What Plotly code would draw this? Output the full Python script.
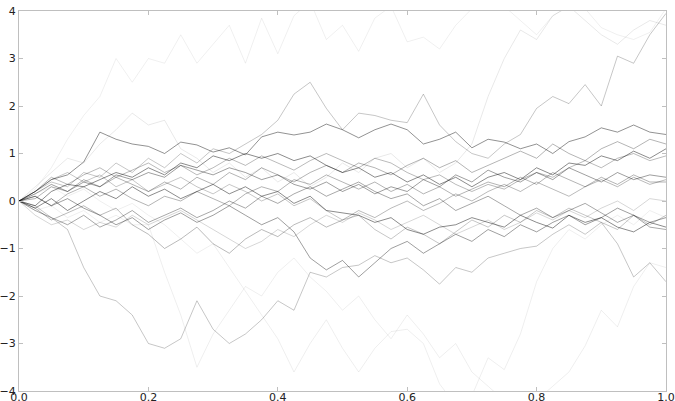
import plotly.graph_objects as go

# time grid (x values)
t = [0.0, 0.025, 0.05, 0.075, 0.1, 0.125, 0.15, 0.175, 0.2, 0.225,
     0.25, 0.275, 0.3, 0.325, 0.35, 0.375, 0.4, 0.425, 0.45, 0.475,
     0.5, 0.525, 0.55, 0.575, 0.6, 0.625, 0.65, 0.675, 0.7, 0.725,
     0.75, 0.775, 0.8, 0.825, 0.85, 0.875, 0.9, 0.925, 0.95, 0.975, 1.0]

path_a = [0, 0.25, 0.7, 1.3, 1.8, 2.2, 3.0, 2.5, 3.0, 2.9, 3.5, 2.9, 3.3, 3.7, 2.9, 3.85, 3.1, 3.9, 4.2, 3.4,
          3.7, 3.15, 3.85, 4.1, 3.35, 3.45, 3.2, 3.7, 4.05, 4.3, 4.1, 3.8, 3.5, 3.9, 4.1, 4.05, 3.65, 3.5, 3.4, 3.55, 4.05]
path_b = [0, 0.2, 0.4, 0.3, 0.6, 0.5, 0.8, 0.6, 0.9, 0.7, 1.0, 0.8, 1.1, 1.0, 1.2, 1.4, 1.7, 2.25, 2.5, 1.95,
          1.5, 1.85, 1.8, 1.7, 1.65, 2.25, 1.6, 1.25, 1.0, 0.9, 1.2, 1.4, 1.95, 2.2, 2.05, 2.45, 2.0, 3.05, 2.9, 3.5, 3.95]
path_c = [0, 0.3, 0.6, 0.9, 0.8, 1.2, 1.5, 1.85, 1.6, 1.7, 1.1, 0.9, 0.6, 0.8, 0.5, 0.7, 0.4, 0.6, 0.3, 0.5,
          0.8, 0.6, 0.9, 1.0, 0.7, 0.9, 0.6, 0.8, 1.2, 2.2, 3.0, 3.6, 3.4, 3.9, 4.1, 3.8, 3.5, 3.3, 3.6, 3.8, 3.7]
path_e = [0, -0.1, -0.35, -0.6, -1.4, -2.0, -2.1, -2.4, -3.0, -3.1, -2.9, -2.1, -2.7, -3.0, -2.8, -2.5, -2.1, -2.3, -1.5, -1.6,
          -1.4, -1.35, -1.15, -1.3, -1.2, -1.45, -1.75, -1.4, -1.5, -1.2, -1.1, -1.0, -0.95, -0.7, -0.5, -0.7, -0.45, -0.6, -0.3, -0.5, -0.3]
path_f = [0, 0.15, 0.3, 0.1, 0.25, 0.0, -0.2, -0.05, -0.3, -0.5, -0.8, -1.1, -0.9, -1.4, -1.9, -2.4, -2.9, -3.6, -3.0, -2.5,
          -3.1, -3.6, -3.1, -2.75, -2.7, -3.0, -3.85, -4.3, -4.1, -3.3, -3.55, -2.8, -1.7, -1.0, -0.6, -0.8, -0.5, -0.3, -0.5, -0.2, -0.35]
path_g = [0, -0.2, -0.1, -0.35, -0.2, -0.45, -0.3, -0.5, -0.5, -1.5, -2.4, -3.5, -2.8, -2.3, -1.8, -2.0, -1.5, -1.2, -1.6, -1.9,
          -2.3, -2.0, -2.5, -2.9, -2.4, -2.8, -3.3, -3.0, -3.6, -3.9, -4.2, -4.4, -4.2, -3.9, -3.6, -3.05, -2.3, -2.65, -1.8, -1.3, -1.4]
path_h = [0, 0.2, 0.45, 0.6, 0.4, 0.55, 0.3, 0.45, 0.2, 0.35, 0.5, 0.3, 0.15, 0.35, 0.2, 0.0, 0.15, -0.1, 0.05, -0.2,
          -0.4, -0.3, -0.6, -0.8, -0.55, -0.7, -0.9, -0.65, -0.4, -0.55, -0.3, -0.45, -0.2, -0.35, -0.15, -0.3, -0.45, -0.9, -1.6, -1.3, -1.7]
path_p1 = [0, 0.2, 0.45, 0.55, 0.82, 1.45, 1.3, 1.2, 1.15, 1.0, 1.24, 1.18, 1.03, 1.12, 0.97, 1.35, 1.45, 1.39, 1.45, 1.62,
           1.5, 1.33, 1.5, 1.62, 1.5, 1.2, 1.3, 1.45, 1.12, 1.3, 1.24, 1.1, 1.2, 1.0, 1.25, 1.35, 1.54, 1.45, 1.6, 1.45, 1.4]
path_p2 = [0, -0.1, 0.2, 0.35, 0.3, 0.45, 0.6, 0.5, 0.7, 0.55, 0.8, 0.7, 0.95, 0.85, 1.0, 0.9, 1.0, 0.85, 0.95, 0.75,
           0.6, 0.7, 0.5, 0.6, 0.4, 0.55, 0.35, 0.5, 0.3, 0.5, 0.6, 0.45, 0.7, 0.55, 0.8, 0.75, 0.95, 0.85, 1.05, 0.9, 1.1]
path_p3 = [0, 0.15, 0.35, 0.2, 0.4, 0.3, 0.55, 0.45, 0.6, 0.5, 0.75, 0.65, 0.55, 0.7, 0.6, 0.45, 0.55, 0.35, 0.25, 0.4,
           0.2, 0.35, 0.15, 0.3, 0.2, 0.45, 0.3, 0.55, 0.4, 0.65, 0.5, 0.4, 0.6, 0.45, 0.7, 0.55, 0.4, 0.6, 0.45, 0.55, 0.5]
path_p4 = [0, -0.15, 0.05, -0.2, 0.0, 0.2, 0.05, 0.3, 0.1, 0.25, 0.05, 0.2, 0.35, 0.15, 0.3, 0.1, 0.2, -0.05, 0.1, -0.2,
           -0.25, -0.3, -0.45, -0.35, -0.6, -0.7, -0.55, -0.5, -0.35, -0.45, -0.55, -0.3, -0.45, -0.57, -0.3, -0.45, -0.35, -0.55, -0.65, -0.45, -0.55]
path_p5 = [0, 0.1, -0.1, 0.15, 0.3, 0.1, 0.25, 0.05, -0.1, 0.1, 0.0, 0.2, 0.05, -0.1, 0.15, 0.3, 0.2, 0.45, 0.35, 0.55,
           0.4, 0.25, 0.4, 0.2, 0.35, 0.15, 0.3, 0.1, 0.25, 0.4, 0.3, 0.5, 0.35, 0.6, 0.45, 0.3, 0.5, 0.35, 0.55, 0.4, 0.4]
path_p6 = [0, 0.2, 0.5, 0.35, 0.55, 0.7, 0.5, 0.65, 0.8, 0.6, 0.75, 0.55, 0.7, 0.9, 0.75, 0.95, 0.8, 0.65, 0.85, 1.0,
           0.85, 0.7, 0.9, 0.8, 0.6, 0.45, 0.55, 0.35, 0.2, 0.35, 0.25, 0.45, 0.6, 0.5, 0.7, 0.85, 0.7, 0.9, 1.0, 0.85, 0.95]
path_p7 = [0, -0.2, -0.35, -0.5, -0.3, -0.55, -0.4, -0.2, -0.45, -0.3, -0.15, -0.35, -0.2, 0.0, -0.15, 0.1, -0.05, 0.15, 0.3, 0.1,
           0.25, 0.4, 0.2, 0.05, 0.15, -0.1, 0.05, -0.2, -0.05, 0.1, -0.1, -0.3, -0.15, -0.35, -0.2, -0.05, -0.25, -0.45, -0.3, -0.55, -0.6]
path_p8 = [0, 0.05, 0.3, 0.2, 0.45, 0.3, 0.5, 0.35, 0.2, 0.4, 0.25, 0.5, 0.35, 0.6, 0.45, 0.7, 0.55, 0.4, 0.6, 0.75,
           0.6, 0.8, 0.7, 0.55, 0.75, 0.9, 0.7, 0.85, 0.6, 0.75, 0.9, 1.05, 0.9, 1.2, 1.0, 0.85, 1.1, 1.25, 1.1, 1.3, 1.2]
path_p9 = [0, -0.3, -0.5, -0.4, -0.6, -0.45, -0.55, -0.3, -0.5, -0.35, -0.2, -0.4, -0.6, -0.8, -1.0, -0.85, -0.6, -0.75, -0.5, -0.3,
           -0.45, -0.25, -0.4, -0.6, -0.45, -0.3, -0.5, -0.7, -0.55, -0.4, -0.6, -0.45, -0.25, -0.4, -0.2, -0.35, -0.15, 0.0, -0.2, 0.05, 0.0]
path_p10 = [0, -0.15, -0.4, -0.25, -0.1, -0.3, -0.15, -0.5, -0.7, -1.0, -0.8, -0.55, -0.9, -1.1, -0.8, -0.6, -0.75, -0.5, -0.35, -0.55,
            -0.4, -0.2, -0.35, -0.15, 0.0, -0.2, -0.05, 0.15, 0.0, 0.2, 0.35, 0.2, 0.4, 0.25, 0.1, 0.3, 0.45, 0.3, 0.5, 0.35, 0.45]
path_d = [0, 0.1, -0.1, 0.05, -0.15, -0.3, -0.5, -0.35, -0.6, -0.4, -0.25, -0.45, -0.3, -0.1, -0.3, -0.5, -0.35, -0.65, -1.2, -1.45,
          -1.25, -1.6, -1.3, -1.0, -0.85, -1.1, -0.9, -0.7, -0.85, -0.6, -0.75, -0.5, -0.65, -0.45, -0.3, -0.5, -0.35, -0.15, -0.3, -0.45, -0.35]

paths = [
    (path_a, 0.07), (path_c, 0.10), (path_f, 0.08), (path_g, 0.08),
    (path_b, 0.25), (path_e, 0.25), (path_h, 0.25), (path_p9, 0.18),
    (path_p10, 0.30), (path_p6, 0.30), (path_p5, 0.33), (path_p8, 0.33),
    (path_p7, 0.38), (path_d, 0.42), (path_p3, 0.42), (path_p1, 0.48),
    (path_p2, 0.50), (path_p4, 0.50),
]

x_ticks = [0.0, 0.2, 0.4, 0.6, 0.8, 1.0]
y_ticks = [-4, -3, -2, -1, 0, 1, 2, 3, 4]

fig = go.Figure()
for ys, a in paths:
    fig.add_trace(go.Scatter(x=t, y=ys, mode="lines",
                             line=dict(color=f"rgba(0,0,0,{a})", width=0.9),
                             hoverinfo="skip", showlegend=False))

axis_common = dict(showgrid=False, zeroline=False, showline=True, linecolor="#bfbfbf",
                   linewidth=1, mirror="ticks", ticks="inside", ticklen=4,
                   tickcolor="#bfbfbf", automargin=False,
                   tickfont=dict(family="DejaVu Sans", size=11, color="#222"))
fig.update_xaxes(range=[0, 1], tickvals=x_ticks, tickformat=".1f", ticklabelstandoff=-4, **axis_common)
fig.update_yaxes(range=[-4, 4], tickvals=y_ticks, **axis_common)
fig.update_layout(width=675, height=401, margin=dict(l=19, r=9, t=11, b=10),
                  plot_bgcolor="white", paper_bgcolor="white")
# remove the page body's default 8px margin so the figure fills the window
fig.write_html("out.html", config={"displayModeBar": False},
               post_script="document.body.style.margin='0';")
